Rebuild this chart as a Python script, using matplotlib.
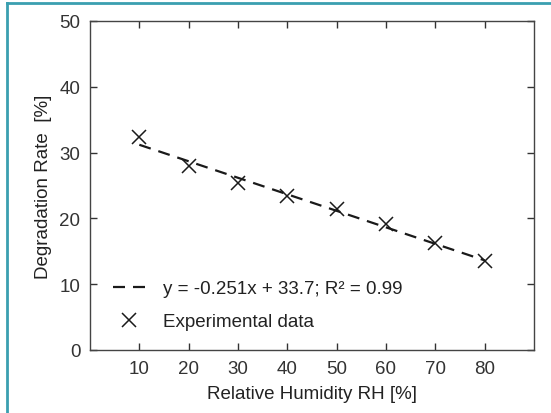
import matplotlib
matplotlib.use("Agg")
import matplotlib.pyplot as plt
from matplotlib.lines import Line2D
import numpy as np

plt.rcParams['font.family'] = ['Liberation Sans', 'DejaVu Sans']

rh = [10, 20, 30, 40, 50, 60, 70, 80]
rate = [32.3, 28.0, 25.4, 23.4, 21.4, 19.1, 16.2, 13.6]
slope = -0.251
intercept = 33.7
fit_x = [10, 80]
xticks = [10, 20, 30, 40, 50, 60, 70, 80]
yticks = [0, 10, 20, 30, 40, 50]

fig = plt.figure(figsize=(5.51, 4.14), dpi=100)
ax = fig.add_axes([90/551, 1-351/414, (534-90)/551, (351-22)/414])

fx = np.array(fit_x)
ax.plot(fx, slope*fx + intercept, color='#1a1a1a', lw=1.6, ls=(0, (5.4, 3.6)),
        label='y = -0.251x + 33.7; R² = 0.99')
ax.plot(rh, rate, ls='none', marker='x', ms=9.5, mew=1.1, color='#1a1a1a',
        label='Experimental data')

ax.set_xlim(0, 90)
ax.set_ylim(0, 50)
ax.set_xticks(xticks)
ax.set_yticks(yticks)
ax.tick_params(direction='in', top=True, right=True, length=5, width=1,
               labelsize=13.5, colors='#333333', pad=7)
for s in ax.spines.values():
    s.set_color('#444444')
    s.set_linewidth(1.0)
ax.set_xlabel('Relative Humidity RH [%]', fontsize=13.5, color='#222222', labelpad=6)
ax.set_ylabel('Degradation Rate  [%]', fontsize=13.5, color='#222222', labelpad=5)

leg = ax.legend(loc='lower left', bbox_to_anchor=(0.0135, 0.009), frameon=False,
                fontsize=13.5, handlelength=1.75, handletextpad=0.9, labelspacing=0.85)
for t in leg.get_texts():
    t.set_color('#222222')

teal = '#3a9fb0'
fig.add_artist(Line2D([7/551, 7/551], [0, 1-4/414], color=teal, lw=2, transform=fig.transFigure))
fig.add_artist(Line2D([7/551, 1], [1-4/414, 1-4/414], color=teal, lw=2, transform=fig.transFigure))

fig.savefig('out.png', dpi=100)
